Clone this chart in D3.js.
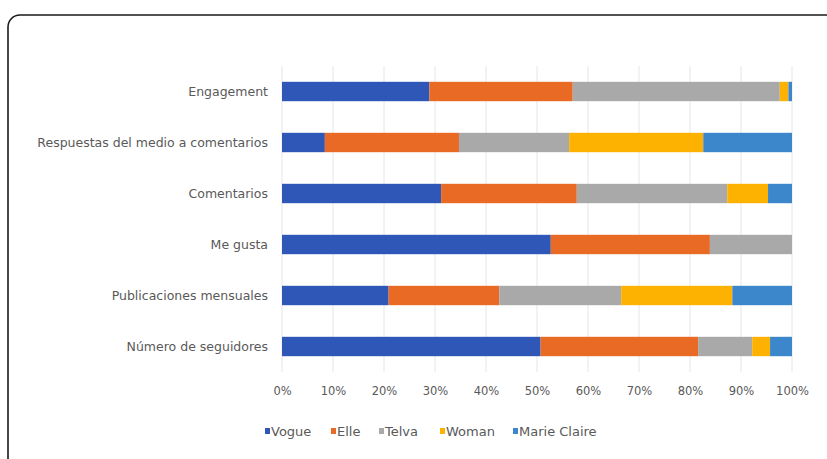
<!DOCTYPE html>
<html>
<head>
<meta charset="utf-8">
<script src="https://cdn.jsdelivr.net/npm/d3@7"></script>
<style>
	body { margin: 0; background: #fff; }
	text { font-family: "DejaVu Sans", "Liberation Sans", sans-serif; fill: #595959; }
</style>
</head>
<body>
<script>
// categories (top to bottom) and share of each magazine, in %
const categories = [
	"Engagement",
	"Respuestas del medio a comentarios",
	"Comentarios",
	"Me gusta",
	"Publicaciones mensuales",
	"Número de seguidores"
];
const seriesNames = ["Vogue", "Elle", "Telva", "Woman", "Marie Claire"];
const vogue = [28.9, 8.4, 31.2, 52.7, 20.9, 50.7];
const elle = [28.1, 26.3, 26.6, 31.2, 21.7, 30.9];
const telva = [40.6, 21.6, 29.5, 16.1, 23.9, 10.6];
const woman = [1.7, 26.3, 8.0, 0, 21.8, 3.5];
const marieClaire = [0.7, 17.4, 4.7, 0, 11.7, 4.3];
const xTicks = [0, 10, 20, 30, 40, 50, 60, 70, 80, 90, 100];
const colors = ["#2f57b8", "#e86a24", "#a9a9a9", "#fdb202", "#3c86cc"];

const w = 827, h = 459;
const svg = d3.select("body").append("svg").attr("width", w).attr("height", h);

// outer rounded frame (runs past the right and bottom edges)
svg.append("rect")
	.attr("x", 8).attr("y", 15)
	.attr("width", 900).attr("height", 500)
	.attr("rx", 12)
	.attr("fill", "none")
	.attr("stroke", "#1a1a1a")
	.attr("stroke-width", 1.6);

const table = categories.map((c, i) => ({
	cat: c,
	Vogue: vogue[i],
	Elle: elle[i],
	Telva: telva[i],
	Woman: woman[i],
	"Marie Claire": marieClaire[i]
}));
const stacked = d3.stack().keys(seriesNames)(table);

const xScale = d3.scaleLinear().domain([0, 100]).range([282, 792]);
const yScale = d3.scaleBand().domain(categories).range([66, 372]).paddingInner(0.62).paddingOuter(0.31);

// gridlines
svg.append("g")
	.selectAll("line")
	.data(xTicks)
	.enter()
	.append("line")
	.attr("x1", d => xScale(d)).attr("x2", d => xScale(d))
	.attr("y1", 66).attr("y2", 372)
	.attr("stroke", "#e6e6e6")
	.attr("stroke-width", 1);

// bars
svg.append("g")
	.selectAll("g")
	.data(stacked)
	.enter()
	.append("g")
	.attr("fill", (d, i) => colors[i])
	.selectAll("rect")
	.data(d => d)
	.enter()
	.append("rect")
	.attr("x", d => xScale(d[0]))
	.attr("y", d => yScale(d.data.cat))
	.attr("width", d => xScale(d[1]) - xScale(d[0]))
	.attr("height", yScale.bandwidth());

// category labels
const yAxis = d3.axisLeft(yScale).tickSize(0).tickPadding(14);
const yg = svg.append("g").attr("transform", "translate(282,0)").call(yAxis);
yg.select(".domain").remove();
yg.selectAll("text").attr("font-size", 12.5).attr("fill", "#595959").attr("font-family", "DejaVu Sans, sans-serif");

// x axis labels
const xAxis = d3.axisBottom(xScale).tickValues(xTicks).tickFormat(d => d + "%").tickSize(0).tickPadding(0);
const xg = svg.append("g").attr("transform", "translate(0,387)").call(xAxis);
xg.select(".domain").remove();
xg.selectAll("text").attr("font-size", 11.5).attr("fill", "#595959").attr("font-family", "DejaVu Sans, sans-serif");

// legend
const legendX = [265, 331, 379, 440, 513];
const lg = svg.append("g")
	.selectAll("g")
	.data(seriesNames)
	.enter()
	.append("g")
	.attr("transform", (d, i) => "translate(" + legendX[i] + ",431)");
lg.append("rect")
	.attr("x", 0).attr("y", -3).attr("width", 5).attr("height", 6)
	.attr("fill", (d, i) => colors[i]);
lg.append("text")
	.attr("x", 6).attr("y", 4.5)
	.attr("font-size", 13)
	.text(d => d);
</script>
</body>
</html>
